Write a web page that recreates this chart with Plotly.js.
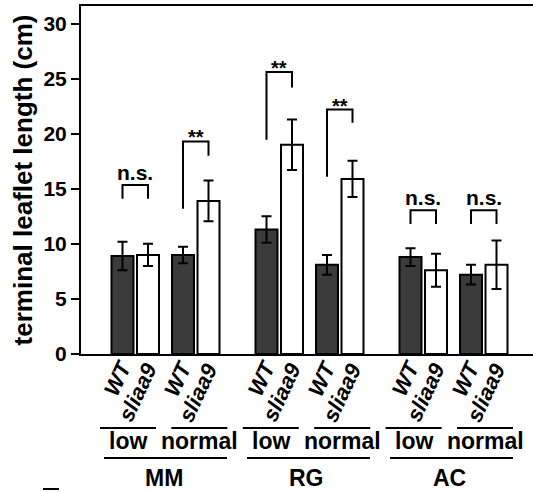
<!DOCTYPE html>
<html><head><meta charset="utf-8">
<script src="https://cdn.plot.ly/plotly-3.0.1.min.js"></script>
<style>html,body{margin:0;padding:0;background:#fff}#chart{width:533px;height:492px}</style>
</head><body><div id="chart"></div>
<script>
// ---- data ----
const groups = ['MM', 'RG', 'AC'];
const conditions = ['low', 'normal'];
const genotypes = ['WT', 'sliaa9'];
// order: MM-low, MM-normal, RG-low, RG-normal, AC-low, AC-normal
const wtMean = [8.9, 9.0, 11.3, 8.1, 8.8, 7.2];
const wtErr  = [1.3, 0.75, 1.2, 0.9, 0.8, 0.9];
const slMean = [9.0, 13.9, 19.0, 15.9, 7.6, 8.1];
const slErr  = [1.0, 1.85, 2.3, 1.65, 1.5, 2.2];
const sigLabels    = ['n.s.', '**', '**', '**', 'n.s.', 'n.s.'];
const bracketLeft  = [14.1, 13.2, 19.45, 16.1, 11.8, 11.8];
const bracketTop   = [15.35, 19.3, 25.6, 22.2, 13.05, 13.05];
const bracketRight = [14.1, 18.0, 24.2, 21.0, 11.8, 11.8];
const yTicks = [0, 5, 10, 15, 20, 25, 30];
const yTitle = 'terminal leaflet length (cm)';

// ---- layout constants (pixel-based x units) ----
const FONT = 'Liberation Sans, Arial, Helvetica, sans-serif';
const L = 81, T = 6, W = 533, H = 492, PB = 354;
const plotH = PB - T;
const groupStep = 144, condStep = 60.5, barStep = 25.5, firstPos = 41.5;
const wtPos = [], slPos = [];
groups.forEach((g, gi) => conditions.forEach((c, ci) => {
  const p = firstPos + gi * groupStep + ci * condStep;
  wtPos.push(p); slPos.push(p + barStep);
}));
const py = pix => (PB - pix) / plotH;   // pixel y -> paper y
const px = pix => (pix - L) / (W - L);  // pixel x -> paper x

const traces = [
  {type: 'bar', x: wtPos, y: wtMean, width: 22, name: genotypes[0],
   marker: {color: '#3b3b3b', line: {color: '#000', width: 2}},
   error_y: {type: 'data', array: wtErr, visible: true, color: '#000', thickness: 2, width: 5},
   hoverinfo: 'none'},
  {type: 'bar', x: slPos, y: slMean, width: 22, name: genotypes[1],
   marker: {color: '#fff', line: {color: '#000', width: 2}},
   error_y: {type: 'data', array: slErr, visible: true, color: '#000', thickness: 2, width: 5},
   hoverinfo: 'none'}
];

const shapes = [];
const annotations = [];
wtPos.forEach((x1, i) => {
  const x2 = slPos[i];
  shapes.push({type: 'path', xref: 'x', yref: 'y',
    path: `M ${x1},${bracketLeft[i]} L ${x1},${bracketTop[i]} L ${x2},${bracketTop[i]} L ${x2},${bracketRight[i]}`,
    line: {color: '#000', width: 2}});
  annotations.push({xref: 'x', yref: 'y', x: (x1 + x2) / 2, y: bracketTop[i],
    yanchor: 'bottom', xanchor: 'center', yshift: sigLabels[i] === '**' ? -9 : -1,
    text: sigLabels[i], showarrow: false,
    font: {family: FONT, size: sigLabels[i] === '**' ? 20 : 21, weight: 'bold', color: '#000'}});
  // rotated genotype labels
  annotations.push({xref: 'x', yref: 'paper', x: x1 - 5, y: 0, yshift: -24.5,
    xanchor: 'center', yanchor: 'middle', textangle: -65, text: genotypes[0], showarrow: false,
    font: {family: FONT, size: 22, weight: 'bold', style: 'italic', color: '#000'}});
  annotations.push({xref: 'x', yref: 'paper', x: x2 - 10.5, y: 0, yshift: -38.5,
    xanchor: 'center', yanchor: 'middle', textangle: -65, text: genotypes[1], showarrow: false,
    font: {family: FONT, size: 22, weight: 'bold', style: 'italic', color: '#000'}});
});

// condition and group labels
const condStart = 100, condPitch = 71.4, condLen = 56;
groups.forEach((g, gi) => {
  conditions.forEach((c, ci) => {
    const k = gi * 2 + ci;
    const a = condStart + k * condPitch, b = a + condLen;
    shapes.push({type: 'line', xref: 'paper', yref: 'paper', x0: px(a), x1: px(b), y0: py(428), y1: py(428),
      line: {color: '#000', width: 2}});
    annotations.push({xref: 'paper', yref: 'paper', x: px((a + b) / 2), y: py(441), xanchor: 'center', yanchor: 'middle',
      text: c, showarrow: false, font: {family: FONT, size: 23, weight: 'bold', color: '#000'}});
  });
  const a = 104 + gi * 143, b = a + 123;
  shapes.push({type: 'line', xref: 'paper', yref: 'paper', x0: px(a), x1: px(b), y0: py(458), y1: py(458),
    line: {color: '#000', width: 2}});
  annotations.push({xref: 'paper', yref: 'paper', x: px((a + b) / 2 - 2), y: py(478), xanchor: 'center', yanchor: 'middle',
    text: g, showarrow: false, font: {family: FONT, size: 23, weight: 'bold', color: '#000'}});
});
// small dash at bottom-left
shapes.push({type: 'line', xref: 'paper', yref: 'paper', x0: px(43), x1: px(59), y0: py(489), y1: py(489),
  line: {color: '#000', width: 2}});

const layout = {
  width: W, height: H,
  margin: {l: L, r: 0, t: T, b: H - PB, pad: 0},
  paper_bgcolor: '#fff', plot_bgcolor: '#fff',
  showlegend: false, barmode: 'overlay',
  font: {family: FONT, color: '#000'},
  xaxis: {range: [0, W - L], showline: true, mirror: true, linewidth: 2, linecolor: '#000',
    showgrid: false, zeroline: false, showticklabels: false, ticks: ''},
  yaxis: {range: [0, 31.6], showline: true, linewidth: 2, linecolor: '#000', showgrid: false, zeroline: false,
    tickvals: yTicks, ticktext: yTicks.map(String), ticks: 'outside', ticklen: 8, tickwidth: 2, tickcolor: '#000',
    tickfont: {family: FONT, size: 21, weight: 'bold', color: '#000'},
    title: {text: yTitle, standoff: 3, font: {family: FONT, size: 26, weight: 'bold', color: '#000'}}},
  shapes: shapes, annotations: annotations
};
Plotly.newPlot('chart', traces, layout, {staticPlot: true, displayModeBar: false});
</script></body></html>
